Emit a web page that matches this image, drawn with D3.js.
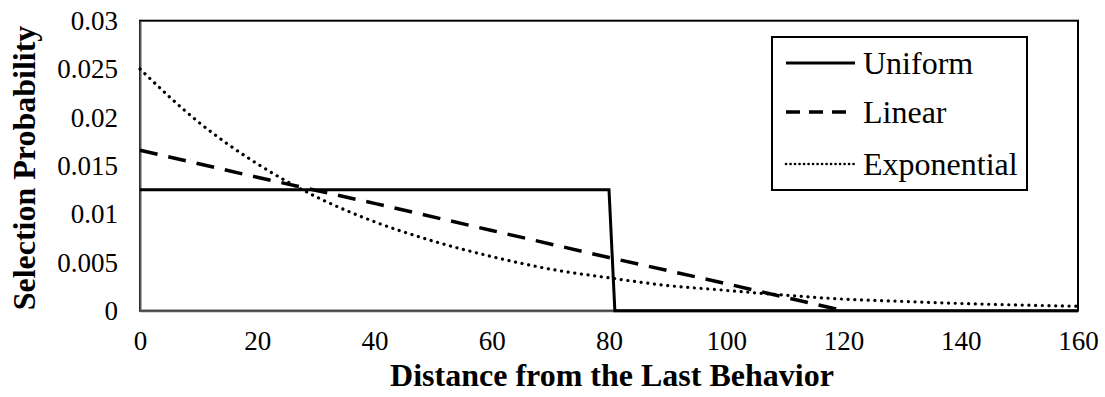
<!DOCTYPE html>
<html>
<head>
<meta charset="utf-8">
<script src="https://cdn.jsdelivr.net/npm/d3@7"></script>
<style>
  body { margin: 0; background: #fff; }
  svg { display: block; font-family: "Liberation Serif", "Times New Roman", serif; }
</style>
</head>
<body>
<div id="chart"></div>
<script>
// data
var xTicks = [0, 20, 40, 60, 80, 100, 120, 140, 160];
var yTicks = [0, 0.005, 0.01, 0.015, 0.02, 0.025, 0.03];
var yTickLabels = ['0', '0.005', '0.01', '0.015', '0.02', '0.025', '0.03'];

var uniformX = [0, 80, 81, 160];
var uniformY = [0.0125, 0.0125, 0, 0];

var linearX = [0, 20, 40, 60, 80, 100, 120];
var linearY = [0.0166, 0.0138, 0.0111, 0.0083, 0.0055, 0.0028, 0];

var expX = [0, 10, 20, 30, 40, 50, 60, 70, 80, 90, 100, 110, 120, 130, 140, 150, 160];
var expY = [0.025, 0.0195, 0.0152, 0.0118, 0.0092, 0.0072, 0.0056, 0.0043, 0.0034,
            0.0026, 0.0021, 0.0016, 0.0012, 0.00097, 0.00075, 0.00059, 0.00046];

var seriesNames = ['Uniform', 'Linear', 'Exponential'];

var W = 1105, H = 397;
var pLeft = 140, pRight = 1078, pTop = 20.7, pBottom = 310.7;

var svg = d3.select('#chart').append('svg').attr('width', W).attr('height', H);

var x = d3.scaleLinear().domain([0, 160]).range([pLeft, pRight]);
var y = d3.scaleLinear().domain([0, 0.03]).range([pBottom, pTop]);

// plot area border
svg.append('rect').attr('x', pLeft).attr('y', pTop)
    .attr('width', pRight - pLeft).attr('height', pBottom - pTop)
    .attr('fill', 'none').attr('stroke', '#000').attr('stroke-width', 2);

// axes
var xAxis = svg.append('g').attr('transform', 'translate(0,' + pBottom + ')')
    .call(d3.axisBottom(x).tickValues(xTicks).tickSize(0).tickPadding(20).tickFormat(d3.format('d')));
var yAxis = svg.append('g').attr('transform', 'translate(' + pLeft + ',0)')
    .call(d3.axisLeft(y).tickValues(yTicks).tickSize(0).tickPadding(22)
        .tickFormat(function (d, i) { return yTickLabels[i]; }));

[xAxis, yAxis].forEach(function (a) {
    a.select('.domain').attr('stroke', '#595959').attr('stroke-width', 2);
    a.selectAll('text').attr('font-family', '"Liberation Serif", serif')
        .attr('font-size', 27).attr('fill', '#000');
});

function pts(xs, ys) {
    return xs.map(function (d, i) { return [d, ys[i]]; });
}

var line = d3.line().x(function (d) { return x(d[0]); }).y(function (d) { return y(d[1]); });
var smooth = d3.line().curve(d3.curveMonotoneX)
    .x(function (d) { return x(d[0]); }).y(function (d) { return y(d[1]); });

svg.append('path').datum(pts(expX, expY)).attr('d', smooth)
    .attr('fill', 'none').attr('stroke', '#000').attr('stroke-width', 3.2)
    .attr('stroke-linecap', 'round').attr('stroke-dasharray', '0.1 6.6');

svg.append('path').datum(pts(linearX, linearY)).attr('d', line)
    .attr('fill', 'none').attr('stroke', '#000').attr('stroke-width', 3.5)
    .attr('stroke-dasharray', '18 11');

svg.append('path').datum(pts(uniformX, uniformY)).attr('d', line)
    .attr('fill', 'none').attr('stroke', '#000').attr('stroke-width', 3);

// legend
var lg = svg.append('g');
lg.append('rect').attr('x', 772).attr('y', 37).attr('width', 255).attr('height', 153)
    .attr('fill', '#fff').attr('stroke', '#000').attr('stroke-width', 2);
var rowY = [63, 112, 164];
var dash = [null, '14 9', '0.1 4.4'];
var widths = [3, 3.5, 2.6];
seriesNames.forEach(function (name, i) {
    lg.append('line').attr('x1', 786).attr('x2', 855).attr('y1', rowY[i]).attr('y2', rowY[i])
        .attr('stroke', '#000').attr('stroke-width', widths[i])
        .attr('stroke-linecap', i === 2 ? 'round' : 'butt')
        .attr('stroke-dasharray', dash[i]);
    lg.append('text').attr('x', 863).attr('y', rowY[i]).attr('dy', '0.35em')
        .attr('font-size', 32).text(name);
});

// axis titles
svg.append('text').attr('x', (pLeft + pRight) / 2 + 3).attr('y', 386)
    .attr('text-anchor', 'middle').attr('font-weight', 'bold').attr('font-size', 32)
    .text('Distance from the Last Behavior');
svg.append('text').attr('transform', 'translate(35,168) rotate(-90)')
    .attr('text-anchor', 'middle').attr('font-weight', 'bold').attr('font-size', 32)
    .text('Selection Probability');
</script>
</body>
</html>
